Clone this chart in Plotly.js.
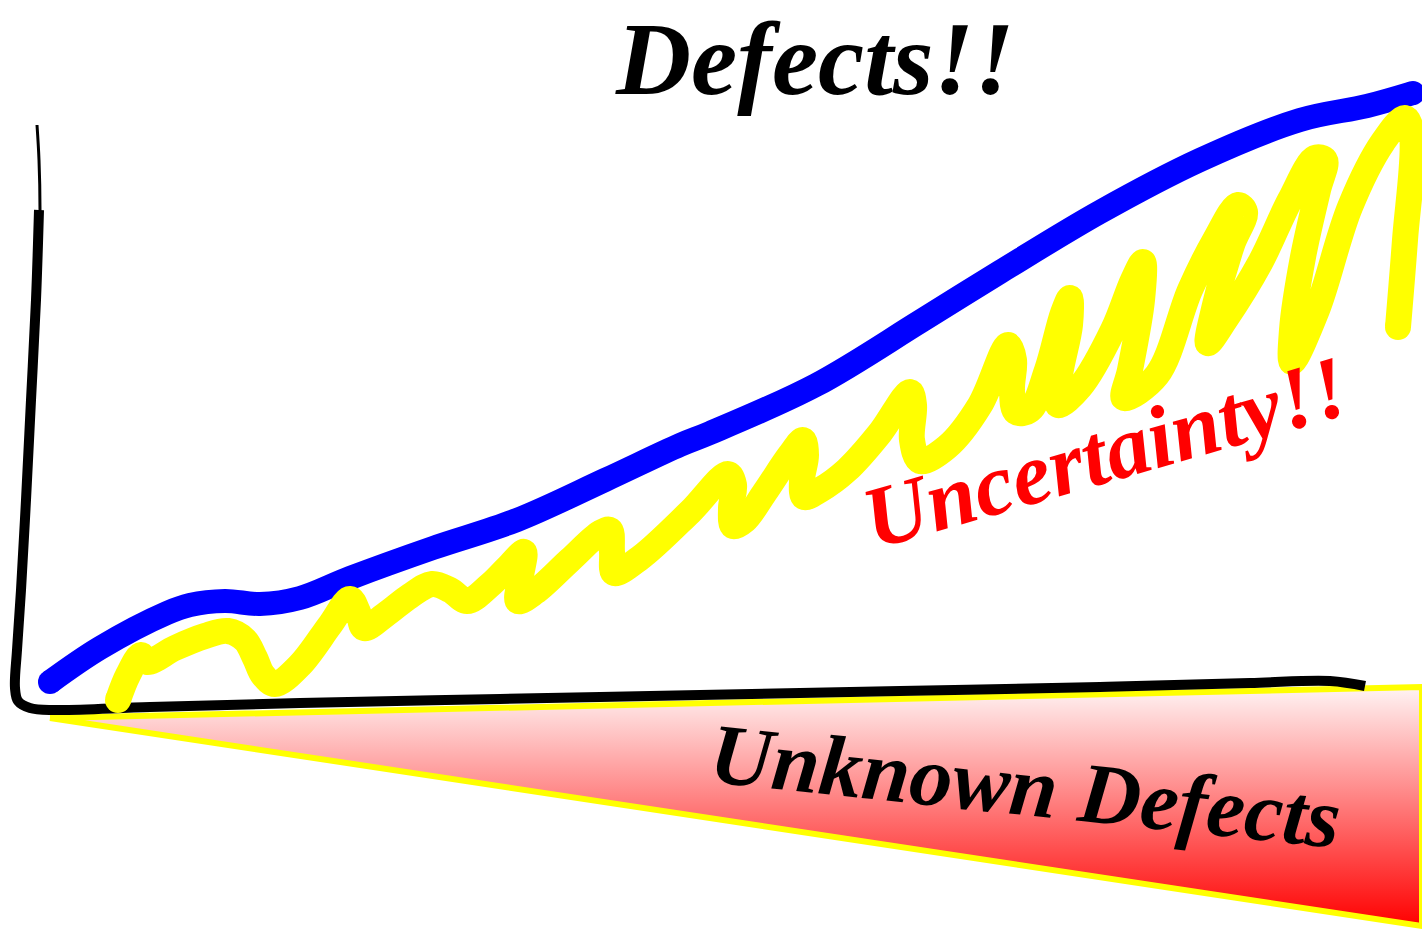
<!DOCTYPE html>
<html>
<head>
<meta charset="utf-8">
<script src="https://cdn.plot.ly/plotly-3.0.1.min.js"></script>
<style>html,body{margin:0;padding:0;background:#fff;} #chart{width:1422px;height:932px;}</style>
</head>
<body>
<div id="chart"></div>
<script>
// Sketch coordinates (canvas units: x 0..1422, y 0..932 measured downward)
const blueX = [50, 100, 167, 190, 225, 260, 300, 350, 433, 517, 605, 680, 710, 816, 921, 1000, 1100, 1200, 1300, 1367, 1413];
const blueY = [682, 648, 613, 605, 601, 604, 598, 578, 548, 520, 480, 445, 433, 385, 321, 272, 212, 160, 120, 106, 93];

const yellowX = [118, 128, 141, 147, 175, 205, 228, 245, 255, 263, 275, 300, 330, 350, 358, 364, 385, 410, 432, 450, 467, 490, 510, 524, 521, 518, 535, 570, 600, 610, 612, 614, 640, 690, 728, 734, 731, 733, 745, 765, 790, 803, 806, 802, 804, 820, 847, 880, 910, 914, 912, 920, 947, 980, 1008, 1014, 1012, 1016, 1030, 1047, 1063, 1070, 1070, 1060, 1058, 1080, 1113, 1133, 1143, 1142, 1130, 1124, 1157, 1190, 1215, 1238, 1245, 1232, 1215, 1208, 1225, 1260, 1290, 1315, 1325, 1318, 1303, 1292, 1292, 1317, 1350, 1383, 1405, 1412, 1405, 1398];
const yellowY = [700, 675, 655, 662, 648, 636, 631, 640, 658, 675, 684, 665, 625, 599, 612, 628, 615, 596, 584, 590, 601, 585, 565, 552, 576, 601, 592, 560, 533, 530, 552, 573, 558, 512, 474, 485, 508, 526, 520, 492, 455, 440, 455, 480, 497, 490, 470, 433, 392, 405, 440, 461, 447, 405, 345, 360, 390, 412, 410, 370, 313, 298, 325, 375, 405, 387, 330, 280, 262, 300, 370, 398, 375, 290, 240, 205, 212, 245, 305, 343, 320, 263, 200, 158, 160, 190, 257, 330, 362, 310, 207, 142, 118, 135, 240, 327];

const axisTopX = [37, 39, 40, 39];
const axisTopY = [125, 160, 210, 260];
const axisX = [39, 36, 31, 26, 21, 17, 15, 18, 30, 55, 150, 300, 500, 700, 900, 1100, 1250, 1330, 1365];
const axisY = [210, 300, 400, 500, 590, 650, 688, 701, 708, 710, 707, 703, 699, 695, 691, 687, 683, 681, 686];

const wedgeX = [50, 1422, 1422, 50];
const wedgeY = [718, 687, 926, 718];

const titleText = "Defects!!";
const uncertaintyText = "Uncertainty!!";
const unknownText = "Unknown Defects";

// round end caps taken from the first and last points of each stroke
const ends = (xs, ys) => ({x: [xs[0], xs[xs.length - 1]], y: [ys[0], ys[ys.length - 1]]});
const blueEnds = ends(blueX, blueY);
const yellowEnds = ends(yellowX, yellowY);

const traces = [
  {x: wedgeX, y: wedgeY, mode: 'lines', fill: 'toself',
   fillgradient: {type: 'vertical', colorscale: [[0, '#ff0000'], [1, '#fff4f4']]},
   line: {color: '#ffff00', width: 6}, hoverinfo: 'skip'},
  {x: axisTopX, y: axisTopY, mode: 'lines', line: {color: '#000', width: 3, shape: 'spline'}, hoverinfo: 'skip'},
  {x: axisX, y: axisY, mode: 'lines', line: {color: '#000', width: 10, shape: 'spline', smoothing: 1}, hoverinfo: 'skip'},
  {x: blueX, y: blueY, mode: 'lines', line: {color: '#0000ff', width: 24, shape: 'spline', smoothing: 1}, hoverinfo: 'skip'},
  {x: blueEnds.x, y: blueEnds.y, mode: 'markers', marker: {color: '#0000ff', size: 24, line: {width: 0}}, hoverinfo: 'skip'},
  {x: yellowX, y: yellowY, mode: 'lines', line: {color: '#ffff00', width: 26, shape: 'spline', smoothing: 1}, hoverinfo: 'skip'},
  {x: yellowEnds.x, y: yellowEnds.y, mode: 'markers', marker: {color: '#ffff00', size: 26, line: {width: 0}}, hoverinfo: 'skip'}
];

const scriptFont = (size, color) => ({family: 'Liberation Serif, DejaVu Serif, serif', size: size, color: color, weight: 700, style: 'italic'});

const layout = {
  width: 1422, height: 932,
  margin: {l: 0, r: 0, t: 0, b: 0, pad: 0},
  paper_bgcolor: '#ffffff', plot_bgcolor: '#ffffff',
  showlegend: false,
  xaxis: {range: [0, 1422], visible: false, fixedrange: true},
  yaxis: {range: [932, 0], visible: false, fixedrange: true},
  annotations: [
    {x: 815, y: 58, xref: 'x', yref: 'y', text: titleText, showarrow: false, font: scriptFont(104, '#000')},
    {x: 1105, y: 452, xref: 'x', yref: 'y', text: uncertaintyText, showarrow: false, textangle: -16, font: scriptFont(88, '#ff0000')},
    {x: 1025, y: 786, xref: 'x', yref: 'y', text: unknownText, showarrow: false, textangle: 6, font: scriptFont(86, '#000')}
  ]
};

Plotly.newPlot('chart', traces, layout, {displayModeBar: false, staticPlot: true});
</script>
</body>
</html>
